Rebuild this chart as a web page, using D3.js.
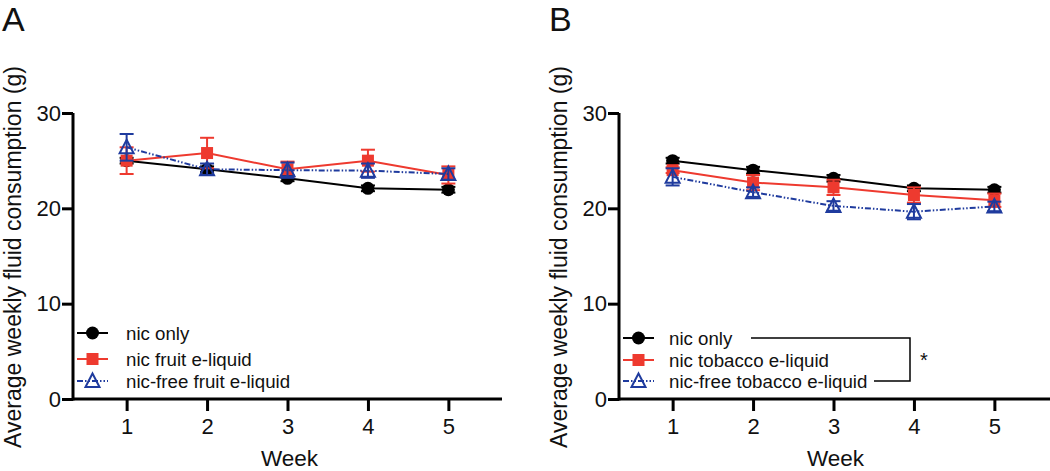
<!DOCTYPE html>
<html>
<head>
<meta charset="utf-8">
<script src="https://cdn.jsdelivr.net/npm/d3@7"></script>
<style>
html,body{margin:0;padding:0;background:#fff;}
svg{display:block;font-family:"Liberation Sans",Arial,Helvetica,sans-serif;}
</style>
</head>
<body>
<svg id="chart" width="1050" height="471"></svg>
<script>
// ---- data ----
const weeks = [1, 2, 3, 4, 5];
const yTicks = [0, 10, 20, 30];

// Panel A (fruit)
const aNicOnly = [25.0, 24.1, 23.15, 22.1, 21.95];
const aNicOnlyErr = [0.3, 0.3, 0.3, 0.3, 0.3];
const aNicFruit = [25.0, 25.8, 24.1, 25.0, 23.5];
const aNicFruitErr = [1.4, 1.6, 0.8, 1.15, 0.9];
const aFreeFruit = [26.4, 24.1, 24.0, 23.95, 23.6];
const aFreeFruitErr = [1.4, 0.6, 0.8, 0.75, 0.6];

// Panel B (tobacco)
const bNicOnly = [25.0, 24.0, 23.15, 22.1, 21.95];
const bNicOnlyErr = [0.3, 0.35, 0.35, 0.3, 0.3];
const bNicTob = [24.0, 22.7, 22.2, 21.4, 20.85];
const bNicTobErr = [0.3, 0.8, 0.8, 0.8, 0.7];
const bFreeTob = [23.3, 21.7, 20.25, 19.65, 20.2];
const bFreeTobErr = [0.9, 0.5, 0.5, 0.8, 0.5];

const legendA = ["nic only", "nic fruit e-liquid", "nic-free fruit e-liquid"];
const legendB = ["nic only", "nic tobacco e-liquid", "nic-free tobacco e-liquid"];
const yTitle = "Average weekly fluid consumption (g)";
const xTitle = "Week";

const BLACK = "#000000", RED = "#EE3A2F", BLUE = "#1F3B9E";
const svg = d3.select("#chart");

function panel(opts) {
  const g = svg.append("g");
  const x = d3.scaleLinear().domain([1/3, 17/3]).range([opts.x0, opts.x0 + 429]);
  const y = d3.scaleLinear().domain([0, 30]).range([399, 113]);

  // panel letter
  g.append("text").attr("x", opts.letterX).attr("y", 31).attr("font-size", 34)
    .attr("fill", "#111").text(opts.letter);

  // y title
  g.append("text").attr("transform", `translate(${opts.x0 - 52},257) rotate(-90)`)
    .attr("text-anchor", "middle").attr("font-size", 23).attr("fill", "#111").text(yTitle);
  // x title
  g.append("text").attr("x", x(3) + 2).attr("y", 466).attr("text-anchor", "middle")
    .attr("font-size", 22.5).attr("fill", "#111").text(xTitle);

  // axes
  const yAxis = g.append("g").attr("transform", `translate(${opts.x0},0)`)
    .call(d3.axisLeft(y).tickValues(yTicks).tickFormat(d3.format("d")).tickSize(11).tickSizeOuter(0).tickPadding(1));
  const xAxis = g.append("g").attr("transform", `translate(0,399)`)
    .call(d3.axisBottom(x).tickValues(weeks).tickFormat(d3.format("d")).tickSize(12).tickSizeOuter(0).tickPadding(7));
  [yAxis, xAxis].forEach(a => {
    a.select(".domain").attr("stroke", "#000").attr("stroke-width", 3);
    a.selectAll(".tick line").attr("stroke", "#000").attr("stroke-width", 3);
    a.selectAll(".tick text").attr("font-size", 22).attr("fill", "#111")
      .attr("font-family", '"Liberation Sans",Arial,sans-serif');
  });
  xAxis.select(".domain").attr("d", `M${opts.x0},0H${opts.xEnd}`);
  yAxis.select(".domain").attr("d", `M0,${y(30)}V${y(0) + 1.5}`);

  const line = d3.line().x((d, i) => x(weeks[i])).y(d => y(d));

  opts.series.forEach(s => {
    const sg = g.append("g");
    sg.append("path").datum(s.vals).attr("d", line).attr("fill", "none")
      .attr("stroke", s.color).attr("stroke-width", 2)
      .attr("stroke-dasharray", s.dash || null);
    // error bars
    s.vals.forEach((v, i) => {
      const cx = x(weeks[i]);
      const lo = y(v - s.err[i]), hi = y(v + s.err[i]);
      sg.append("line").attr("x1", cx).attr("x2", cx).attr("y1", lo).attr("y2", hi)
        .attr("stroke", s.color).attr("stroke-width", 2);
      [lo, hi].forEach(yy => sg.append("line").attr("x1", cx - 7).attr("x2", cx + 7)
        .attr("y1", yy).attr("y2", yy).attr("stroke", s.color).attr("stroke-width", 2));
    });
    s.vals.forEach((v, i) => drawMarker(sg, s.shape, x(weeks[i]), y(v), s.color));
  });

  // legend
  opts.legend.forEach((lab, i) => {
    const s = opts.series[i];
    const ly = opts.legY[i];
    const lx0 = opts.x0 + 4, lx1 = opts.x0 + 35;
    g.append("line").attr("x1", lx0).attr("x2", lx1).attr("y1", ly).attr("y2", ly)
      .attr("stroke", s.color).attr("stroke-width", 2).attr("stroke-dasharray", s.dash || null);
    drawMarker(g, s.shape, (lx0 + lx1) / 2, ly, s.color);
    g.append("text").attr("x", opts.x0 + opts.legTextDx).attr("y", ly + 7)
      .attr("font-size", 18.7).attr("fill", "#111").text(lab);
  });
  return {g, x, y};
}

function drawMarker(g, shape, cx, cy, color) {
  if (shape === "circle") {
    g.append("circle").attr("cx", cx).attr("cy", cy).attr("r", 6.5).attr("fill", color);
  } else if (shape === "square") {
    g.append("rect").attr("x", cx - 6).attr("y", cy - 6).attr("width", 12).attr("height", 12).attr("fill", color);
  } else {
    g.append("path").attr("d", `M${cx},${cy - 7.5}L${cx + 7},${cy + 6}L${cx - 7},${cy + 6}Z`)
      .attr("fill", "#fff").attr("fill-opacity", 0).attr("stroke", color).attr("stroke-width", 2);
  }
}

const dashDD = "6,2,1.5,2,1.5,2";

panel({
  x0: 73, xEnd: 502, letter: "A", letterX: 2,
  series: [
    {vals: aNicOnly, err: aNicOnlyErr, color: BLACK, shape: "circle"},
    {vals: aNicFruit, err: aNicFruitErr, color: RED, shape: "square"},
    {vals: aFreeFruit, err: aFreeFruitErr, color: BLUE, shape: "triangle", dash: dashDD}
  ],
  legend: legendA, legY: [333, 359, 381], legTextDx: 53
});

const pB = panel({
  x0: 619, xEnd: 1050, letter: "B", letterX: 549,
  series: [
    {vals: bNicOnly, err: bNicOnlyErr, color: BLACK, shape: "circle"},
    {vals: bNicTob, err: bNicTobErr, color: RED, shape: "square"},
    {vals: bFreeTob, err: bFreeTobErr, color: BLUE, shape: "triangle", dash: dashDD}
  ],
  legend: legendB, legY: [338, 360, 381], legTextDx: 50
});

// significance bracket in panel B
pB.g.append("path").attr("d", "M751,338H910V381H874").attr("fill", "none")
  .attr("stroke", "#000").attr("stroke-width", 1.5);
pB.g.append("text").attr("x", 920).attr("y", 367).attr("font-size", 20).attr("fill", "#111").text("*");
</script>
</body>
</html>
